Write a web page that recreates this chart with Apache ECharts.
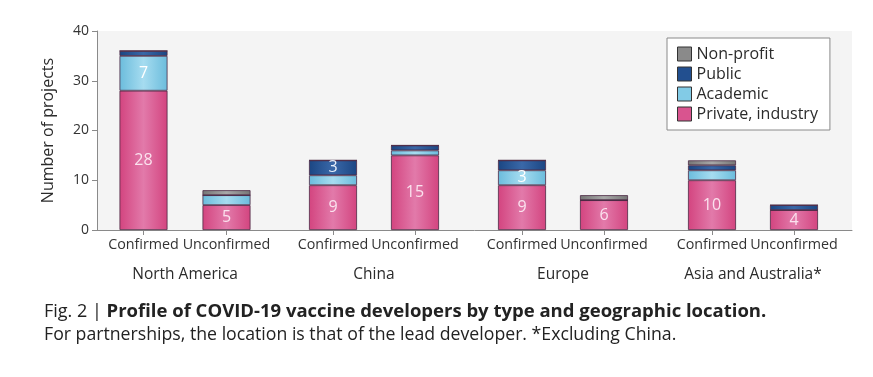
<!DOCTYPE html>
<html>
<head>
<meta charset="utf-8">
<script src="https://cdn.jsdelivr.net/npm/echarts@6/dist/echarts.min.js"></script>
<style>
  html, body { margin: 0; padding: 0; background: #fff; }
  #chart { width: 873px; height: 377px; }
</style>
</head>
<body>
<div id="chart"></div>
<script>
// data
var categories = ['Confirmed', 'Unconfirmed'];
var regions = ['North America', 'China', 'Europe', 'Asia and Australia*'];
// per region: [Confirmed, Unconfirmed]
var privateIndustry = [28, 5, 9, 15, 9, 6, 10, 4];
var academic = [7, 2, 2, 1, 3, 0, 2, 0];
var publicSector = [1, 0, 3, 1, 2, 0, 1, 1];
var nonProfit = [0, 1, 0, 0, 0, 1, 1, 0];
var yTicks = [0, 10, 20, 30, 40];

var font = '"Open Sans", sans-serif';

function grad(edge, mid) {
  return new echarts.graphic.LinearGradient(0, 0, 1, 0, [
    { offset: 0, color: edge },
    { offset: 0.5, color: mid },
    { offset: 1, color: edge }
  ]);
}

var kinds = [
  { name: 'Private, industry', values: privateIndustry, fill: grad('#d3447f', '#e27aaa'), icon: '#d9548f', label: '#fbe2ee' },
  { name: 'Academic', values: academic, fill: grad('#6bbcdc', '#a6dcf0'), icon: '#82cbe6', label: '#ffffff' },
  { name: 'Public', values: publicSector, fill: grad('#1b4683', '#3a68a8'), icon: '#224f8f', label: '#e8f0fa' },
  { name: 'Non-profit', values: nonProfit, fill: grad('#767676', '#a8a8a8'), icon: '#8a8a8a', label: '#ffffff' }
];

// pixel slots of each region group (left edge, width)
var groupBoxes = [[102, 166], [292, 164], [481, 164], [671, 164]];

var grids = [{ left: 97, right: 21, top: 31, bottom: 147, show: true, backgroundColor: '#f4f4f4', borderWidth: 0 }];
var xAxes = [{
  gridIndex: 0, type: 'value', min: 0, max: 1,
  axisLine: { show: true, lineStyle: { color: '#8a8a8a', width: 1 } },
  axisTick: { show: false }, axisLabel: { show: false }, splitLine: { show: false }
}];
var yAxes = [{
  gridIndex: 0, type: 'value', min: yTicks[0], max: yTicks[yTicks.length - 1], interval: 10,
  name: 'Number of projects', nameLocation: 'middle', nameGap: 41,
  nameTextStyle: { fontFamily: font, fontSize: 16, color: '#2b2b2b' },
  axisLine: { show: true, lineStyle: { color: '#8a8a8a' } },
  axisTick: { show: true, length: 5, lineStyle: { color: '#8a8a8a' } },
  axisLabel: { fontFamily: font, fontSize: 14, color: '#333', margin: 8 },
  splitLine: { show: false }
}];
var series = [];

regions.forEach(function (reg, g) {
  var idx = g + 1;
  grids.push({ left: groupBoxes[g][0], width: groupBoxes[g][1], top: 31, bottom: 147 });
  xAxes.push({
    gridIndex: idx, type: 'category', data: categories,
    name: reg, nameLocation: 'middle', nameGap: 37,
    nameTextStyle: { fontFamily: font, fontSize: 15.5, color: '#2b2b2b' },
    axisLine: { show: false },
    axisTick: { show: true, alignWithLabel: true, length: 5, lineStyle: { color: '#8a8a8a' } },
    axisLabel: { fontFamily: font, fontSize: 14.3, color: '#333', margin: 8, interval: 0 }
  });
  yAxes.push({ gridIndex: idx, type: 'value', min: 0, max: 40, show: false });
  kinds.forEach(function (k) {
    series.push({
      name: k.name, type: 'bar', stack: 'r' + g,
      xAxisIndex: idx, yAxisIndex: idx, barWidth: 48,
      itemStyle: { color: k.fill, borderColor: '#4d2a45', borderWidth: 0.8 },
      label: {
        show: true, position: 'inside', fontFamily: font, fontSize: 16, color: k.label,
        formatter: function (p) { return p.value >= 3 ? p.value : ''; }
      },
      data: k.values.slice(g * 2, g * 2 + 2)
    });
  });
});

var chart = echarts.init(document.getElementById('chart'));
chart.setOption({
  animation: false,
  backgroundColor: '#fff',
  title: [
    {
      left: 39, top: 297,
      text: '{a|Fig. 2 | }{b|Profile of COVID-19 vaccine developers by type and geographic location.}',
      textStyle: {
        fontWeight: 'normal',
        rich: {
          a: { fontFamily: font, fontSize: 18, fontWeight: 'normal', color: '#222' },
          b: { fontFamily: font, fontSize: 18.5, fontWeight: 'bold', color: '#222' }
        }
      }
    },
    {
      left: 39, top: 321,
      text: 'For partnerships, the location is that of the lead developer. *Excluding China.',
      textStyle: { fontFamily: font, fontSize: 17.7, fontWeight: 'normal', color: '#222' }
    }
  ],
  legend: {
    data: ['Non-profit', 'Public', 'Academic', 'Private, industry'].map(function (n) {
      var k = kinds.filter(function (x) { return x.name === n; })[0];
      return { name: n, itemStyle: { color: k.icon, borderColor: '#333', borderWidth: 1 } };
    }),
    orient: 'vertical', left: 667, top: 38,
    backgroundColor: '#fff', borderColor: '#8a8a8a', borderWidth: 1,
    padding: [8, 12, 8, 10], itemGap: 4, itemWidth: 14, itemHeight: 14, icon: 'rect',
    textStyle: { fontFamily: font, fontSize: 16, color: '#2b2b2b', lineHeight: 16 }
  },
  grid: grids,
  xAxis: xAxes,
  yAxis: yAxes,
  series: series
});
</script>
</body>
</html>
